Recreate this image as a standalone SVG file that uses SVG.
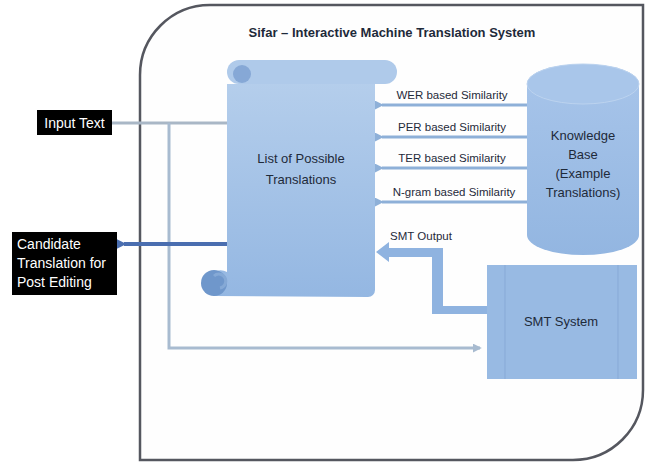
<svg xmlns="http://www.w3.org/2000/svg" width="651" height="463" viewBox="0 0 651 463">
  <defs>
    <style>
      text { font-family: "Liberation Sans", Arial, sans-serif; fill: #1e2a3a; }
      .title { font-size: 13px; font-weight: bold; }
      .node { font-size: 13px; text-anchor: middle; }
      .lbl { font-size: 11.5px; text-anchor: middle; }
      .inv { font-size: 14px; fill: #ffffff; }
      .sim { stroke: #8eb0d8; stroke-width: 3; fill: none; }
      .feed { stroke: #a8bbd0; stroke-width: 3; fill: none; }
    </style>
    <linearGradient id="scrollFill" x1="0" y1="0" x2="0" y2="1">
      <stop offset="0" stop-color="#b6cfec"/>
      <stop offset="1" stop-color="#94b7e2"/>
    </linearGradient>
    <linearGradient id="cylFill" x1="0" y1="0" x2="0" y2="1">
      <stop offset="0" stop-color="#a8c5ea"/>
      <stop offset="1" stop-color="#93b6e1"/>
    </linearGradient>
    <marker id="headSim" viewBox="0 0 10 10" refX="2" refY="5" markerWidth="3" markerHeight="3" orient="auto">
      <path d="M0 5 L10 0 L10 10 Z" fill="#8eb0d8"/>
    </marker>
    <marker id="headFeed" viewBox="0 0 10 10" refX="8" refY="5" markerWidth="3" markerHeight="3" orient="auto">
      <path d="M0 0 L10 5 L0 10 Z" fill="#a8bbd0"/>
    </marker>
    <marker id="headOut" viewBox="0 0 10 10" refX="2" refY="5" markerWidth="3" markerHeight="3" orient="auto">
      <path d="M0 5 L10 0 L10 10 Z" fill="#4a6eb0"/>
    </marker>
  </defs>

  <rect width="651" height="463" fill="#ffffff"/>

  <!-- system boundary -->
  <g id="system">
    <path d="M140 75 A70 70 0 0 1 210 5 L643 5 L643 390 A70 70 0 0 1 573 460 L140 460 Z" fill="#fefefe" stroke="#55575f" stroke-width="2.5"/>
    <text class="title" x="392" y="37" text-anchor="middle">Sifar – Interactive Machine Translation System</text>
  </g>

  <!-- connectors -->
  <g id="connectors">
    <line x1="112" y1="123" x2="227" y2="123" stroke="#a9b7c6" stroke-width="3"/>
    <polyline class="feed" points="169,123 169,348 480,348" marker-end="url(#headFeed)"/>
    <line x1="227" y1="244" x2="124" y2="244" stroke="#4a6eb0" stroke-width="4" marker-end="url(#headOut)"/>
    <line class="sim" x1="527" y1="105" x2="382" y2="105" marker-end="url(#headSim)"/>
    <line class="sim" x1="527" y1="137" x2="382" y2="137" marker-end="url(#headSim)"/>
    <line class="sim" x1="527" y1="168" x2="382" y2="168" marker-end="url(#headSim)"/>
    <line class="sim" x1="527" y1="202" x2="382" y2="202" marker-end="url(#headSim)"/>
    <text class="lbl" x="452" y="99">WER based Similarity</text>
    <text class="lbl" x="452" y="131">PER based Similarity</text>
    <text class="lbl" x="452" y="162">TER based Similarity</text>
    <text class="lbl" x="454" y="196">N-gram based Similarity</text>
    <!-- SMT output feedback path -->
    <path d="M376 252 L389 242 L389 248 L443 248 L443 306 L487 306 L487 314 L432 314 L432 257 L389 257 L389 262 Z" fill="#8fb3e0"/>
    <text class="lbl" x="421" y="240">SMT Output</text>
  </g>

  <!-- list of possible translations (scroll) -->
  <g id="translations">
    <path d="M227 72 L227 272 A13 13 0 0 0 214 296 L368 297 A7 7 0 0 0 375 290 L375 84 L227 84 Z" fill="url(#scrollFill)"/>
    <rect x="227" y="60" width="170" height="24" rx="12" fill="#afcaea"/>
    <circle cx="242" cy="74" r="9" fill="#86a8d6"/>
    <circle cx="214" cy="283" r="13" fill="#6f97cb"/>
    <path d="M214 276 A7 7 0 1 1 220 288" fill="none" stroke="#85a9d6" stroke-width="3"/>
    <text class="node" x="301" y="163">List of Possible</text>
    <text class="node" x="301" y="184">Translations</text>
  </g>

  <!-- knowledge base (cylinder) -->
  <g id="knowledge">
    <path d="M527 84 A56 20 0 0 1 639 84 L639 235 A56 20 0 0 1 527 235 Z" fill="url(#cylFill)"/>
    <ellipse cx="583" cy="84" rx="56" ry="20" fill="#a9c6ea" stroke="#bcd3ef" stroke-width="1"/>
    <text class="node" x="583" y="140">Knowledge</text>
    <text class="node" x="583" y="159">Base</text>
    <text class="node" x="583" y="178">(Example</text>
    <text class="node" x="583" y="197">Translations)</text>
  </g>

  <!-- SMT system -->
  <g id="smt">
    <rect x="487" y="265" width="150" height="114" fill="#98bae3"/>
    <line x1="505" y1="265" x2="505" y2="379" stroke="#87a9d6" stroke-width="1"/>
    <line x1="618" y1="265" x2="618" y2="379" stroke="#87a9d6" stroke-width="1"/>
    <text class="node" x="561" y="326">SMT System</text>
  </g>

  <!-- input text -->
  <g id="input">
    <rect x="37" y="110" width="75" height="25" fill="#000000"/>
    <text class="inv" x="74.5" y="127.5" text-anchor="middle">Input Text</text>
  </g>

  <!-- candidate translation -->
  <g id="candidate">
    <rect x="12" y="232" width="105" height="63" fill="#000000"/>
    <text class="inv" x="17" y="249">Candidate</text>
    <text class="inv" x="17" y="268">Translation for</text>
    <text class="inv" x="17" y="287">Post Editing</text>
  </g>
</svg>
